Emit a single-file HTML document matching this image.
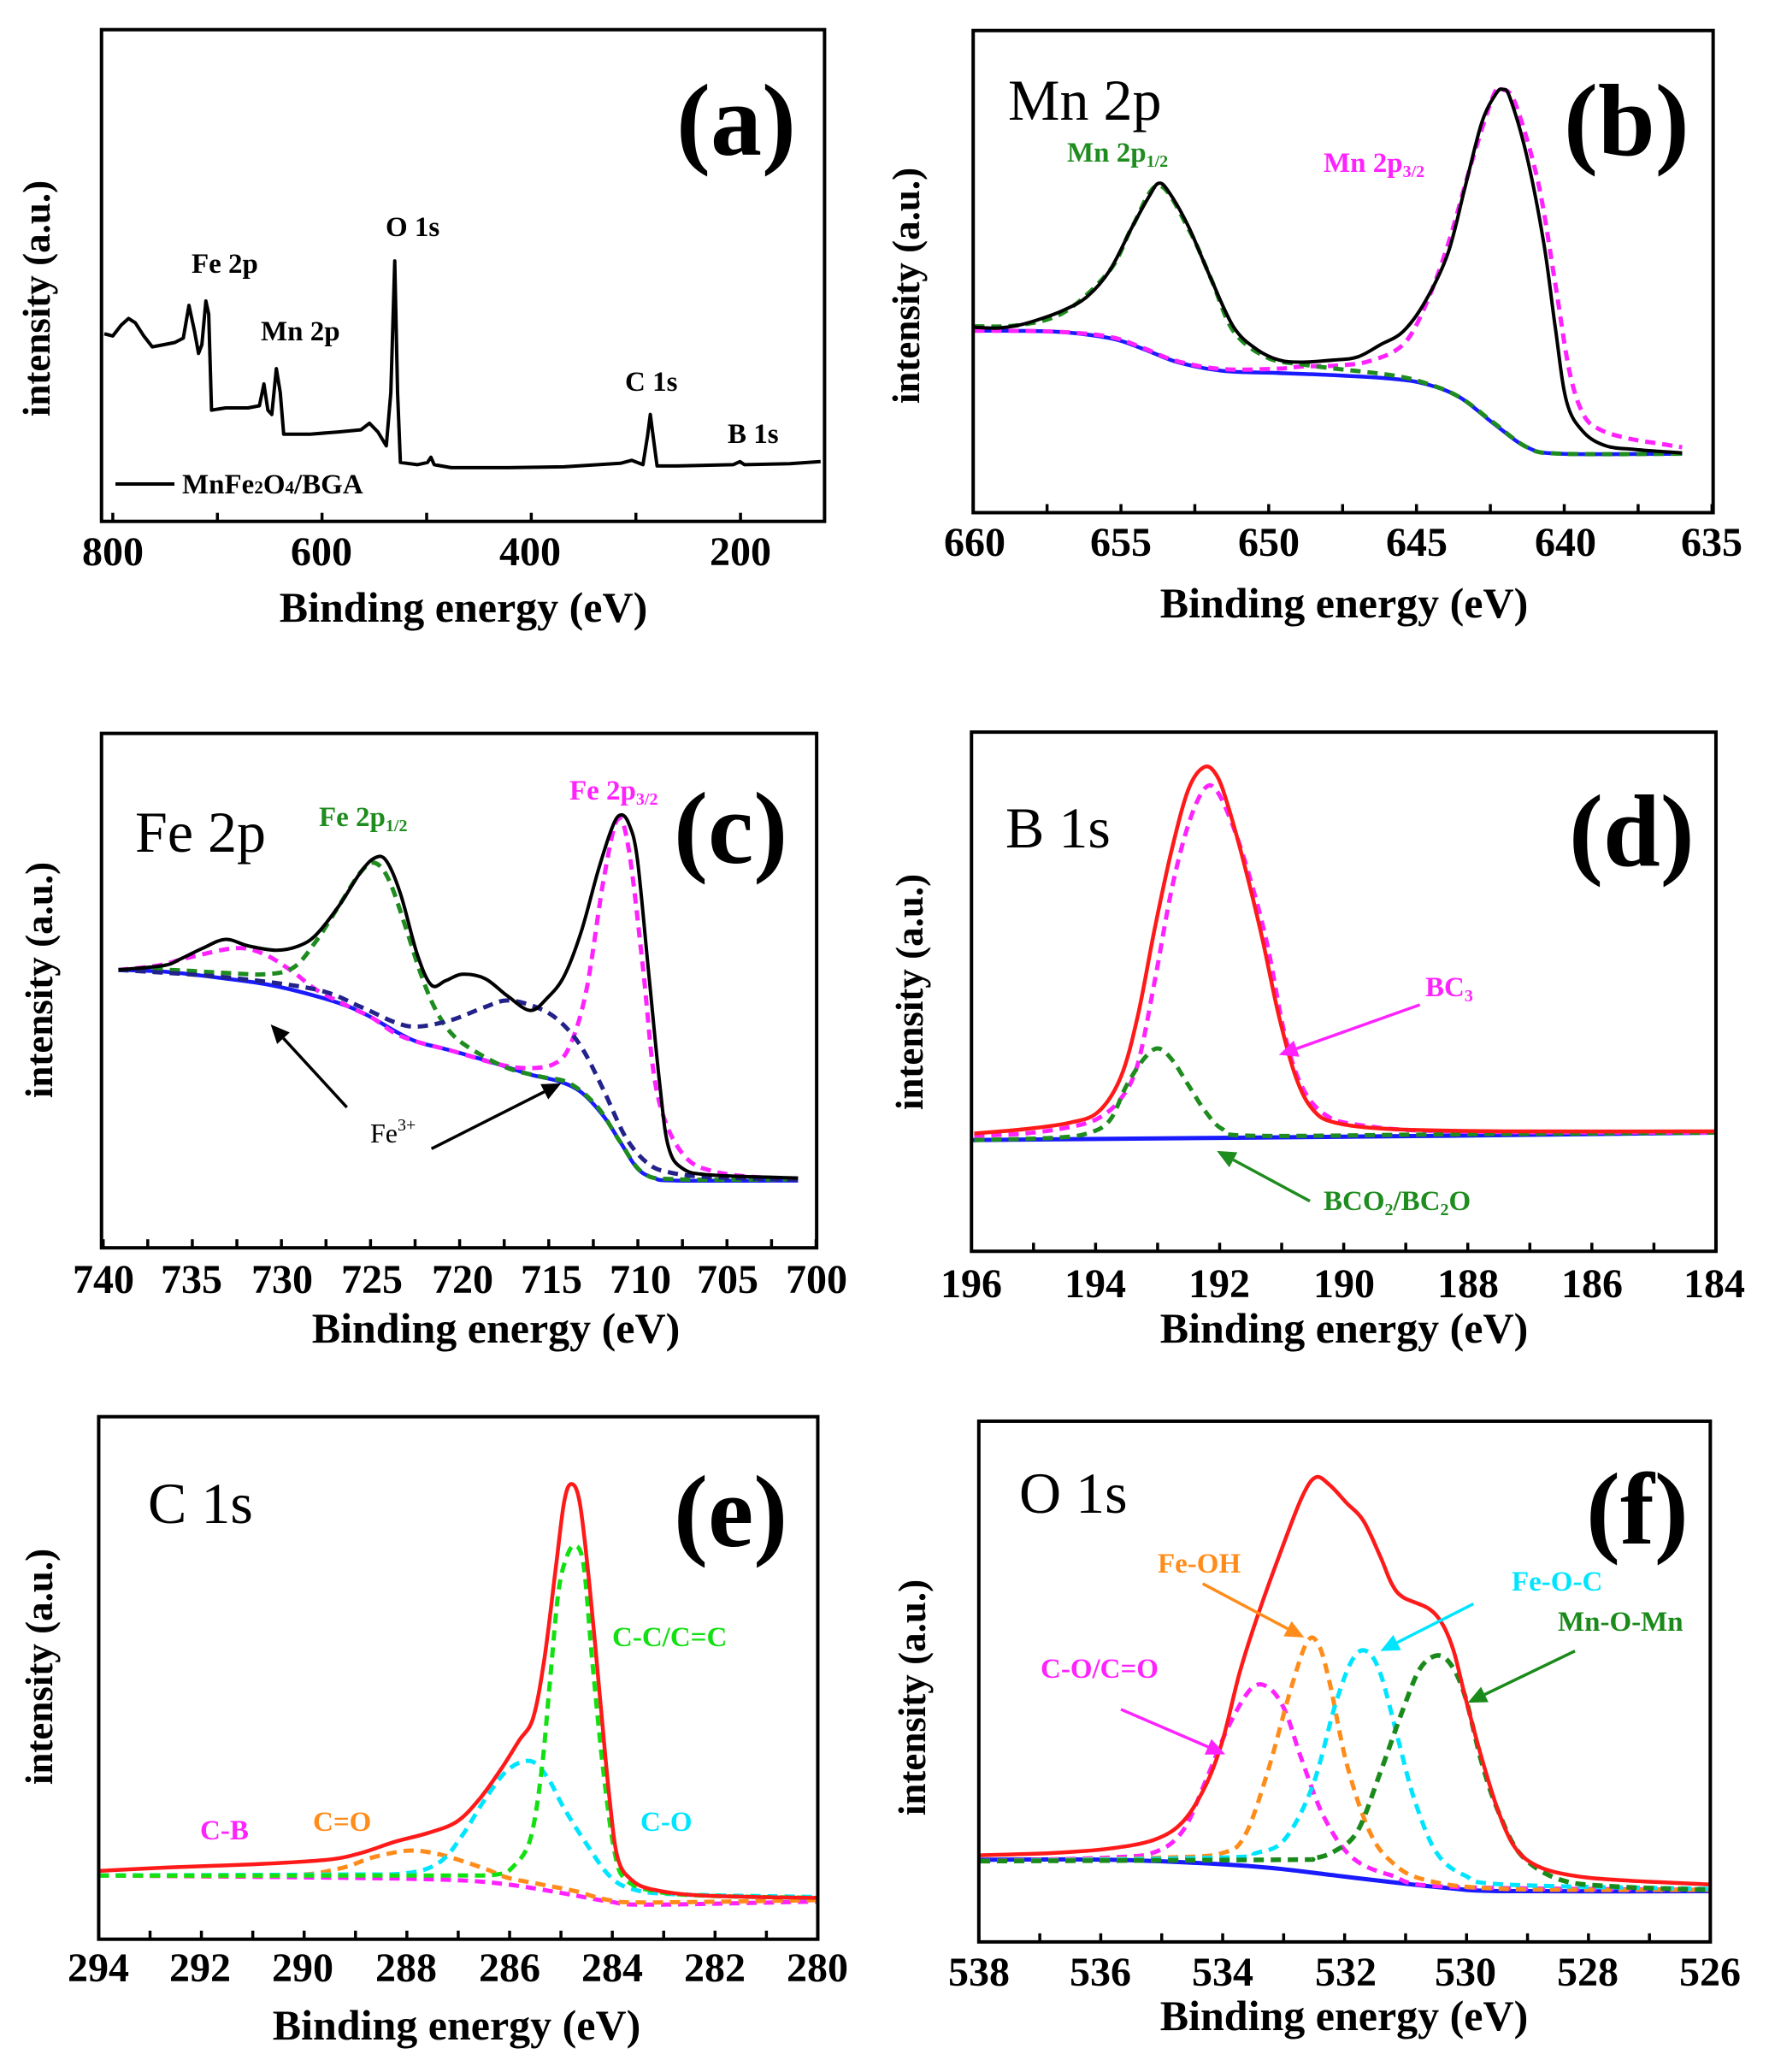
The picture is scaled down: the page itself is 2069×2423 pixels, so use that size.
<!DOCTYPE html>
<html><head><meta charset="utf-8">
<style>
html,body{margin:0;padding:0;background:#fff;}
svg{display:block;}
text{font-family:"Liberation Serif",serif;}
.b{font-weight:bold;}
.tk{font-weight:bold;font-size:48px;text-anchor:middle;}
.xl{font-weight:bold;font-size:50px;text-anchor:middle;}
.yl{font-weight:bold;font-size:45px;text-anchor:middle;dominant-baseline:central;}
.big{font-size:120px;font-weight:bold;}
.el{font-size:68px;}
.lb{font-weight:bold;font-size:33px;}
</style></head>
<body>
<svg id="s" width="2069" height="2423" viewBox="0 0 2069 2423" xmlns="http://www.w3.org/2000/svg">
<rect width="2069" height="2423" fill="#fff"/>
<g id="curves"></g>
<g id="frames" fill="none" stroke="#000" stroke-width="4"></g>

<!-- Panel a -->
<text class="tk" x="132" y="661">800</text><text class="tk" x="376" y="661">600</text><text class="tk" x="620" y="661">400</text><text class="tk" x="866" y="661">200</text>
<text class="xl" x="542" y="727">Binding energy (eV)</text>
<text class="yl" transform="translate(43,349) rotate(-90)">intensity (a.u.)</text>
<text class="big" x="791" y="181">(a)</text>
<text class="lb" x="224" y="319">Fe 2p</text>
<text class="lb" x="305" y="398">Mn 2p</text>
<text class="lb" x="451" y="276">O 1s</text>
<text class="lb" x="731" y="457">C 1s</text>
<text class="lb" x="851" y="518">B 1s</text>
<line x1="135" y1="566" x2="204" y2="566" stroke="#000" stroke-width="4"/>
<text class="lb" x="213" y="577" font-size="31">MnFe<tspan font-size="21">2</tspan>O<tspan font-size="21">4</tspan>/BGA</text>

<!-- Panel b -->
<text class="tk" x="1140" y="650">660</text><text class="tk" x="1311" y="650">655</text><text class="tk" x="1484" y="650">650</text><text class="tk" x="1657" y="650">645</text><text class="tk" x="1831" y="650">640</text><text class="tk" x="2002" y="650">635</text>
<text class="xl" x="1572" y="722">Binding energy (eV)</text>
<text class="yl" transform="translate(1060,334) rotate(-90)">intensity (a.u.)</text>
<text class="big" x="1829" y="181">(b)</text>
<text class="el" x="1179" y="140">Mn 2p</text>
<text class="lb" x="1248" y="189" fill="#1e8c1e">Mn 2p<tspan font-size="20" dy="6">1/2</tspan></text>
<text class="lb" x="1548" y="201" fill="#ff22ff">Mn 2p<tspan font-size="20" dy="6">3/2</tspan></text>

<!-- Panel c -->
<text class="tk" x="121" y="1512">740</text><text class="tk" x="224" y="1512">735</text><text class="tk" x="330" y="1512">730</text><text class="tk" x="435" y="1512">725</text><text class="tk" x="541" y="1512">720</text><text class="tk" x="645" y="1512">715</text><text class="tk" x="749" y="1512">710</text><text class="tk" x="851" y="1512">705</text><text class="tk" x="955" y="1512">700</text>
<text class="xl" x="580" y="1570">Binding energy (eV)</text>
<text class="yl" transform="translate(46,1146) rotate(-90)">intensity (a.u.)</text>
<text class="big" x="788" y="1009">(c)</text>
<text class="el" x="158" y="996">Fe 2p</text>
<text class="lb" x="373" y="966" fill="#1e8c1e">Fe 2p<tspan font-size="20" dy="6">1/2</tspan></text>
<text class="lb" x="666" y="935" fill="#ff22ff">Fe 2p<tspan font-size="20" dy="6">3/2</tspan></text>
<text x="433" y="1336" font-size="32">Fe<tspan font-size="20" dy="-14">3+</tspan></text>

<!-- Panel d -->
<text class="tk" x="1136" y="1517">196</text><text class="tk" x="1281" y="1517">194</text><text class="tk" x="1426" y="1517">192</text><text class="tk" x="1572" y="1517">190</text><text class="tk" x="1717" y="1517">188</text><text class="tk" x="1862" y="1517">186</text><text class="tk" x="2005" y="1517">184</text>
<text class="xl" x="1572" y="1570">Binding energy (eV)</text>
<text class="yl" transform="translate(1064,1160) rotate(-90)">intensity (a.u.)</text>
<text class="big" x="1835" y="1012">(d)</text>
<text class="el" x="1176" y="991">B 1s</text>
<text class="lb" x="1667" y="1165" fill="#ff22ff">BC<tspan font-size="20" dy="6">3</tspan></text>
<text class="lb" x="1548" y="1415" fill="#1e8c1e">BCO<tspan font-size="20" dy="6">2</tspan><tspan dy="-6">/BC</tspan><tspan font-size="20" dy="6">2</tspan><tspan dy="-6">O</tspan></text>

<!-- Panel e -->
<text class="tk" x="115" y="2317">294</text><text class="tk" x="234" y="2317">292</text><text class="tk" x="354" y="2317">290</text><text class="tk" x="475" y="2317">288</text><text class="tk" x="596" y="2317">286</text><text class="tk" x="716" y="2317">284</text><text class="tk" x="836" y="2317">282</text><text class="tk" x="956" y="2317">280</text>
<text class="xl" x="534" y="2385">Binding energy (eV)</text>
<text class="yl" transform="translate(46,1949) rotate(-90)">intensity (a.u.)</text>
<text class="big" x="788" y="1808" font-weight="normal">(e)</text>
<text class="el" x="173" y="1781">C 1s</text>
<text class="lb" x="716" y="1925" fill="#11e011">C-C/C=C</text>
<text class="lb" x="749" y="2141" fill="#00e5ff">C-O</text>
<text class="lb" x="366" y="2141" fill="#ff8c1a">C=O</text>
<text class="lb" x="234" y="2151" fill="#ff22ff">C-B</text>

<!-- Panel f -->
<text class="tk" x="1145" y="2322">538</text><text class="tk" x="1287" y="2322">536</text><text class="tk" x="1430" y="2322">534</text><text class="tk" x="1574" y="2322">532</text><text class="tk" x="1714" y="2322">530</text><text class="tk" x="1857" y="2322">528</text><text class="tk" x="2000" y="2322">526</text>
<text class="xl" x="1572" y="2374">Binding energy (eV)</text>
<text class="yl" transform="translate(1067,1985) rotate(-90)">intensity (a.u.)</text>
<text class="big" x="1855" y="1805" font-weight="normal">(f)</text>
<text class="el" x="1192" y="1769">O 1s</text>
<text class="lb" x="1354" y="1839" fill="#ff8c1a">Fe-OH</text>
<text class="lb" x="1768" y="1860" fill="#00e5ff">Fe-O-C</text>
<text class="lb" x="1822" y="1907" fill="#1a8a1a">Mn-O-Mn</text>
<text class="lb" x="1217" y="1962" fill="#ff22ff">C-O/C=O</text>
</svg>
<script>
(function(){
var NS="http://www.w3.org/2000/svg";
var cg=document.getElementById('curves'),fg=document.getElementById('frames');
var FX=1.516;
function el(p,n,a){var e=document.createElementNS(NS,n);for(var k in a)e.setAttribute(k,a[k]);p.appendChild(e);return e;}
function tr(P,pts){return pts.map(function(q){return [P.ox+q[0]/FX,P.oy+q[1]/P.fy];});}
function smooth(p){var d="M"+p[0][0].toFixed(1)+","+p[0][1].toFixed(1);
 for(var i=0;i<p.length-1;i++){var p0=p[i-1]||p[i],p1=p[i],p2=p[i+1],p3=p[i+2]||p2;
  var c1=[p1[0]+(p2[0]-p0[0])/6,p1[1]+(p2[1]-p0[1])/6],c2=[p2[0]-(p3[0]-p1[0])/6,p2[1]-(p3[1]-p1[1])/6];
  d+="C"+c1[0].toFixed(1)+","+c1[1].toFixed(1)+" "+c2[0].toFixed(1)+","+c2[1].toFixed(1)+" "+p2[0].toFixed(1)+","+p2[1].toFixed(1);}
 return d;}
function lin(p){return "M"+p.map(function(q){return q[0].toFixed(1)+","+q[1].toFixed(1);}).join("L");}
function curve(P,pts,col,dash,w,sharp){var p=tr(P,pts);var a={d:sharp?lin(p):smooth(p),fill:"none",stroke:col,"stroke-width":w||4.5,"stroke-linejoin":"round"};
 if(dash)a["stroke-dasharray"]="12,8";el(cg,"path",a);}
function arrow(P,a,b,col){var p=tr(P,[a,b]);var x1=p[0][0],y1=p[0][1],x2=p[1][0],y2=p[1][1];
 var dx=x2-x1,dy=y2-y1,L=Math.sqrt(dx*dx+dy*dy),ux=dx/L,uy=dy/L,h=22,wd=10;
 var bx=x2-ux*h,by=y2-uy*h;
 el(cg,"line",{x1:x1,y1:y1,x2:bx,y2:by,stroke:col,"stroke-width":3.5});
 el(cg,"polygon",{points:x2+","+y2+" "+(bx-uy*wd)+","+(by+ux*wd)+" "+(bx+uy*wd)+","+(by-ux*wd),fill:col});}
function frame(P,box,ticks){var p=tr(P,[[box[0],box[1]],[box[2],box[3]]]);
 el(fg,"rect",{x:p[0][0],y:p[0][1],width:p[1][0]-p[0][0],height:p[1][1]-p[0][1]});
 ticks.forEach(function(t){var x=P.ox+t/FX;el(fg,"line",{x1:x,y1:p[1][1],x2:x,y2:p[1][1]-10,"stroke-width":3.5});});}
function rng(a,b,s){var r=[];for(var x=a;x<=b+0.1;x+=s)r.push(x);return r;}
var G="#1e8c1e",M="#ff22ff",R="#ff1a1a",B="#1a1aff",C="#00e5ff",O="#ff8c1a",K="#000";

var A={ox:0,oy:0,fy:1.96};
frame(A,[180,68,1462,1195],rng(200,1313,185.5));
curve(A,[[185,765],[200,770],[215,745],[228,730],[240,740],[255,770],[270,795],[290,790],[310,785],[325,775],[335,700],[345,760],[352,810],[358,790],[365,690],[370,720],[375,940],[400,935],[440,935],[460,930],[468,880],[475,940],[482,950],[490,845],[497,900],[503,995],[550,995],[600,990],[640,985],[655,970],[670,990],[685,1022],[693,900],[700,598],[705,900],[710,1060],[740,1065],[758,1060],[764,1048],[770,1065],[800,1072],[900,1072],[1000,1070],[1100,1062],[1120,1055],[1140,1065],[1148,1000],[1153,950],[1158,1000],[1165,1068],[1200,1068],[1300,1065],[1312,1058],[1320,1065],[1400,1063],[1455,1058]],K,false,4,true);

var Bp={ox:1034,oy:0,fy:1.96};
frame(Bp,[158,70,1470,1175],rng(158,1470,131));
curve(Bp,[[160,758],[300,760],[400,775],[460,800],[520,830],[600,850],[700,855],[800,860],[900,868],[960,880],[1020,910],[1080,970],[1140,1025],[1200,1040],[1415,1040]],B,false,4.5);
curve(Bp,[[160,758],[300,760],[400,772],[460,798],[520,828],[600,846],[700,845],[740,840],[800,838],[860,828],[920,790],[960,700],[1000,560],[1040,380],[1080,220],[1097,205],[1120,240],[1160,420],[1190,650],[1215,850],[1240,950],[1270,985],[1320,1005],[1380,1018],[1415,1025]],M,true,5);
curve(Bp,[[160,748],[240,745],[320,715],[400,620],[440,520],[487,425],[540,525],[580,640],[620,760],[680,820],[740,835],[800,845],[900,860],[960,878],[1020,910],[1080,968],[1140,1025],[1200,1040],[1415,1040]],G,true,5);
curve(Bp,[[160,750],[200,752],[240,745],[280,730],[320,710],[360,680],[400,620],[440,520],[470,450],[487,420],[505,440],[540,520],[580,640],[620,750],[660,800],[700,825],[740,830],[800,825],[840,818],[880,790],[920,760],[960,690],[1000,580],[1030,430],[1060,280],[1085,215],[1097,205],[1110,225],[1140,360],[1170,560],[1190,750],[1210,920],[1240,990],[1280,1022],[1330,1030],[1380,1035],[1415,1038]],K,false,4);

var Cp={ox:0,oy:800,fy:1.96};
frame(Cp,[180,113,1448,1292],rng(183,1448,79));
curve(Cp,[[210,655],[300,660],[400,675],[480,690],[560,715],[620,740],[660,765],[700,795],[740,820],[800,840],[880,870],[940,895],[990,910],[1030,935],[1070,990],[1100,1050],[1130,1110],[1160,1132],[1200,1138],[1415,1138]],B,false,4.5);
curve(Cp,[[210,655],[280,645],[340,625],[420,605],[470,620],[520,660],[560,700],[620,740],[660,765],[700,800],[740,820],[800,840],[880,870],[930,880],[980,872],[1010,830],[1040,700],[1070,450],[1095,310],[1115,380],[1140,650],[1160,900],[1185,1020],[1220,1090],[1260,1115],[1320,1128],[1415,1135]],M,true,5);
curve(Cp,[[210,655],[300,655],[400,662],[470,665],[520,650],[560,590],[600,510],[640,430],[665,410],[690,450],[720,560],[745,660],[770,740],[800,800],[840,840],[900,880],[960,900],[1010,915],[1060,970],[1100,1050],[1140,1120],[1200,1135],[1415,1135]],G,true,5);
curve(Cp,[[210,655],[400,672],[560,700],[640,740],[700,775],[740,785],[800,770],[860,740],[900,725],[950,740],[990,770],[1030,830],[1070,930],[1110,1040],[1150,1100],[1190,1120],[1260,1130],[1415,1136]],"#22228a",true,5);
curve(Cp,[[210,655],[290,645],[320,630],[360,605],[400,585],[440,600],[490,610],[530,600],[560,575],[600,510],[640,430],[665,398],[685,405],[710,480],[740,620],[765,690],[790,680],[820,665],[860,675],[900,715],[940,748],[970,720],[1000,670],[1030,570],[1060,430],[1085,330],[1100,300],[1115,320],[1130,400],[1150,660],[1170,920],[1185,1060],[1210,1110],[1260,1125],[1415,1132]],K,false,4);
arrow(Cp,[615,970],[480,780],K);
arrow(Cp,[765,1065],[995,915],K);

var Dp={ox:1034,oy:800,fy:1.96};
frame(Dp,[155,110,1475,1300],rng(155,1475,110));
curve(Dp,[[155,1045],[600,1040],[1000,1035],[1475,1028]],B,false,5);
curve(Dp,[[160,1035],[250,1030],[330,1015],[380,995],[420,950],[450,870],[480,680],[510,470],[540,320],[568,240],[590,245],[620,330],[650,450],[680,600],[710,800],[740,920],[780,985],[840,1010],[1000,1025],[1475,1028]],M,true,5);
curve(Dp,[[160,1045],[300,1040],[360,1030],[400,1000],[430,920],[460,860],[485,835],[510,860],[540,920],[570,980],[600,1020],[650,1035],[1000,1032],[1475,1028]],G,true,5);
curve(Dp,[[160,1030],[250,1020],[330,1005],[380,980],[420,900],[450,760],[480,560],[510,380],[540,240],[568,190],[590,210],[610,280],[640,420],[670,580],[700,760],[730,900],[760,975],[800,1005],[900,1020],[1100,1025],[1475,1025]],R,false,4.5);
arrow(Dp,[950,735],[700,850],M);
arrow(Dp,[755,1185],[590,1070],G);

var Ep={ox:0,oy:1600,fy:1.905};
frame(Ep,[175,108,1450,1272],rng(175,1450,91.07));
curve(Ep,[[175,1130],[600,1135],[800,1140],[900,1150],[1000,1170],[1080,1188],[1150,1195],[1450,1188]],M,true,5);
curve(Ep,[[175,1130],[500,1130],[600,1115],[660,1090],[720,1075],[760,1078],[800,1090],[860,1115],[900,1135],[960,1150],[1020,1165],[1080,1185],[1150,1190],[1450,1185]],O,true,5);
curve(Ep,[[175,1130],[600,1128],[720,1125],[780,1100],[820,1040],[860,960],[900,895],[940,875],[970,910],[1000,980],[1040,1060],[1080,1130],[1120,1160],[1200,1172],[1450,1178]],C,true,5);
curve(Ep,[[175,1130],[600,1130],[800,1130],[880,1128],[910,1110],[940,1050],[960,900],[975,700],[990,500],[1005,420],[1020,395],[1035,440],[1050,650],[1070,900],[1090,1080],[1110,1140],[1160,1165],[1250,1175],[1450,1180]],"#11e011",true,5);
curve(Ep,[[175,1120],[300,1112],[450,1105],[580,1095],[640,1080],[700,1055],[760,1035],[810,1010],[850,960],[890,890],[920,830],[945,780],[965,650],[985,450],[1000,300],[1013,258],[1028,300],[1045,480],[1065,750],[1080,950],[1095,1090],[1120,1140],[1160,1162],[1250,1175],[1450,1180]],R,false,4.5);

var Fp={ox:1034,oy:1600,fy:1.905};
frame(Fp,[168,118,1465,1278],rng(168,1465,108.1));
curve(Fp,[[170,1095],[400,1095],[600,1105],[700,1115],[800,1130],[900,1145],[1000,1158],[1100,1165],[1465,1165]],B,false,5);
curve(Fp,[[170,1098],[400,1090],[480,1078],[530,1030],[570,920],[610,800],[650,715],[680,710],[710,760],[740,870],[780,1000],[830,1090],[900,1130],[1000,1155],[1465,1162]],M,true,5);
curve(Fp,[[170,1098],[500,1090],[600,1080],[640,1040],[680,900],[720,720],[750,610],[770,615],[790,700],[820,880],[860,1030],[900,1100],[960,1140],[1100,1160],[1465,1162]],O,true,5);
curve(Fp,[[170,1098],[600,1090],[660,1080],[710,1050],[760,930],[800,750],[830,650],[855,630],[880,680],[910,820],[940,960],[980,1080],[1030,1130],[1100,1150],[1465,1160]],C,true,5);
curve(Fp,[[170,1098],[700,1095],[760,1092],[800,1075],[840,1030],[880,900],[920,760],[950,670],[980,640],[1005,660],[1030,730],[1060,880],[1090,990],[1130,1085],[1200,1140],[1300,1155],[1465,1162]],"#1a8a1a",true,5.5);
curve(Fp,[[170,1085],[300,1080],[400,1070],[480,1050],[530,1010],[570,930],[600,830],[630,680],[660,560],[700,420],[740,290],[765,243],[790,260],[820,300],[850,340],[880,420],[900,480],[920,510],[965,535],[990,570],[1010,630],[1030,730],[1060,870],[1090,990],[1120,1070],[1160,1110],[1220,1130],[1300,1140],[1465,1150]],R,false,4.5);
arrow(Fp,[565,480],[745,600],O);
arrow(Fp,[1045,525],[880,630],C);
arrow(Fp,[1225,630],[1035,745],"#1a8a1a");
arrow(Fp,[420,760],[605,860],M);
})();
</script>
</body></html>
